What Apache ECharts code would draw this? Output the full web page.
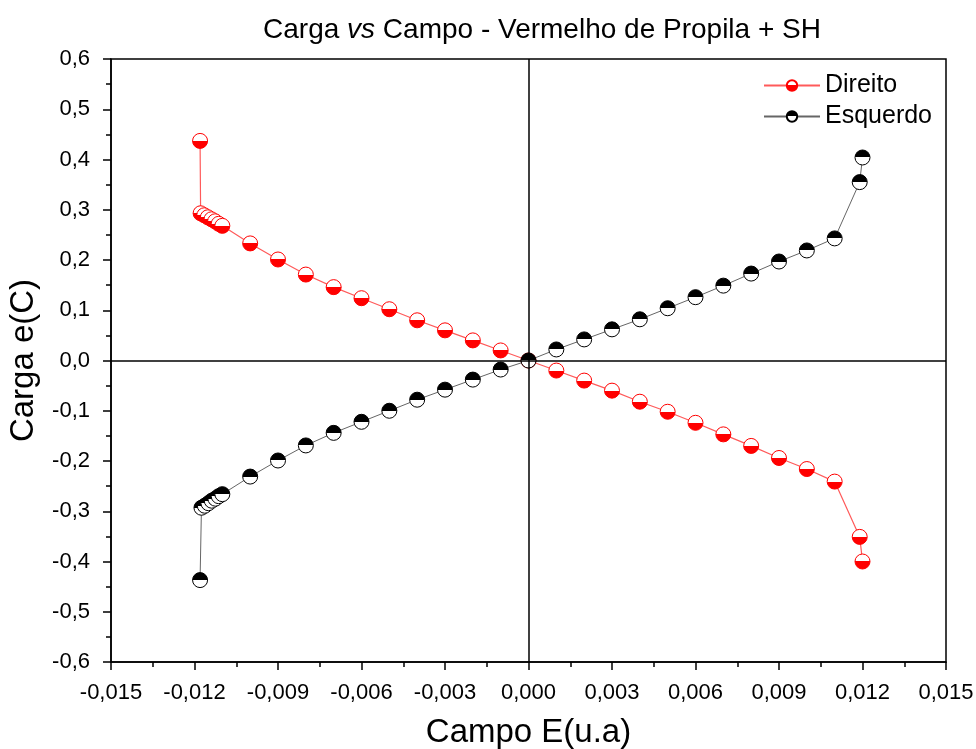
<!DOCTYPE html>
<html>
<head>
<meta charset="utf-8">
<script src="https://cdn.jsdelivr.net/npm/echarts@6/dist/echarts.min.js"></script>
<style>html,body{margin:0;padding:0;background:#fff}#c{width:976px;height:749px}</style>
</head>
<body>
<div id="c"></div>
<script>
// Direito (red) series
const direitoX = [-0.0118, -0.01178, -0.01165, -0.01152, -0.01139, -0.01126, -0.01113, -0.0110,
  -0.010, -0.009, -0.008, -0.007, -0.006, -0.005, -0.004, -0.003, -0.002, -0.001, 0,
  0.001, 0.002, 0.003, 0.004, 0.005, 0.006, 0.007, 0.008, 0.009, 0.010, 0.011, 0.0119, 0.0120];
const direitoY = [0.437, 0.293, 0.289, 0.285, 0.281, 0.277, 0.272, 0.268,
  0.233, 0.201, 0.171, 0.146, 0.124, 0.102, 0.080, 0.060, 0.040, 0.020, 0,
  -0.020, -0.040, -0.060, -0.082, -0.102, -0.124, -0.147, -0.170, -0.194, -0.216, -0.241, -0.351, -0.400];
// Esquerdo (black) series
const esquerdoX = [-0.0118, -0.01175, -0.01163, -0.0115, -0.01138, -0.01125, -0.01113, -0.0110,
  -0.010, -0.009, -0.008, -0.007, -0.006, -0.005, -0.004, -0.003, -0.002, -0.001, 0,
  0.001, 0.002, 0.003, 0.004, 0.005, 0.006, 0.007, 0.008, 0.009, 0.010, 0.011, 0.0119, 0.0120];
const esquerdoY = [-0.437, -0.293, -0.289, -0.284, -0.279, -0.275, -0.270, -0.266,
  -0.231, -0.199, -0.169, -0.144, -0.122, -0.100, -0.078, -0.058, -0.038, -0.018, 0,
  0.022, 0.042, 0.062, 0.082, 0.104, 0.126, 0.149, 0.173, 0.197, 0.219, 0.243, 0.355, 0.404];
const seriesNames = ['Direito', 'Esquerdo'];
const xTickFmt = v => v.toFixed(3).replace('.', ',');
const yTickFmt = v => v.toFixed(1).replace('.', ',');

const FONT = 'Liberation Sans, Arial, sans-serif';
function halfFill(top, bottom) {
  return {type: 'linear', x: 0, y: 0, x2: 0, y2: 1, colorStops: [
    {offset: 0, color: top}, {offset: 0.5, color: top},
    {offset: 0.5, color: bottom}, {offset: 1, color: bottom}]};
}
const pairs = (xs, ys) => xs.map((x, i) => [x, ys[i]]);

const chart = echarts.init(document.getElementById('c'), null, {renderer: 'canvas'});
chart.setOption({
  animation: false,
  backgroundColor: '#fff',
  title: {
    text: '{n|Carga }{i|vs}{n| Campo - Vermelho de Propila + SH}',
    left: 537, top: 11, textAlign: 'center',
    textStyle: {fontWeight: 'normal', rich: {
      n: {fontSize: 28, fontFamily: FONT, color: '#000', fontWeight: 'normal'},
      i: {fontSize: 28, fontFamily: FONT, color: '#000', fontWeight: 'normal', fontStyle: 'italic'}
    }}
  },
  legend: {
    data: seriesNames, orient: 'vertical', left: 763, top: 73, padding: 0,
    itemWidth: 56, itemHeight: 13, itemGap: 6,
    textStyle: {fontSize: 25, fontFamily: FONT, color: '#000'}
  },
  grid: {left: 111, right: 30, top: 59, bottom: 87, show: true, borderColor: '#000', borderWidth: 1.5,
    outerBoundsMode: 'none', containLabel: false},
  xAxis: {
    type: 'value', min: -0.015, max: 0.015, interval: 0.003,
    name: 'Campo E(u.a)', nameLocation: 'middle', nameGap: 54,
    nameTextStyle: {fontSize: 33, fontFamily: FONT, color: '#000'},
    axisLine: {show: true, onZero: false, lineStyle: {color: '#000', width: 1.5}},
    axisTick: {show: true, inside: false, length: 8, lineStyle: {color: '#000', width: 1.5}},
    minorTick: {show: true, splitNumber: 2, length: 5, lineStyle: {color: '#000', width: 1.5}},
    splitLine: {show: false},
    axisLabel: {fontSize: 22, fontFamily: FONT, color: '#000', margin: 20, formatter: xTickFmt}
  },
  yAxis: {
    type: 'value', min: -0.6, max: 0.6, interval: 0.1,
    name: 'Carga e(C)', nameLocation: 'middle', nameGap: 71, nameRotate: 90,
    nameTextStyle: {fontSize: 33, fontFamily: FONT, color: '#000'},
    axisLine: {show: true, onZero: false, lineStyle: {color: '#000', width: 1.5}},
    axisTick: {show: true, inside: false, length: 8, lineStyle: {color: '#000', width: 1.5}},
    minorTick: {show: true, splitNumber: 2, length: 5, lineStyle: {color: '#000', width: 1.5}},
    splitLine: {show: false},
    axisLabel: {fontSize: 22, fontFamily: FONT, color: '#000', margin: 21, formatter: yTickFmt}
  },
  series: [
    {
      name: 'zero', type: 'line', data: [], z: 1, silent: true,
      markLine: {
        silent: true, symbol: ['none', 'none'], label: {show: false},
        lineStyle: {color: '#000', width: 1.5, type: 'solid'},
        emphasis: {disabled: true},
        data: [{xAxis: 0}, {yAxis: 0}]
      }
    },
    {
      name: seriesNames[0], type: 'line', z: 3,
      data: pairs(direitoX, direitoY),
      symbol: 'circle', symbolSize: 15,
      lineStyle: {color: '#ff5a5a', width: 1.2},
      itemStyle: {color: halfFill('#ffffff', '#ff0000'), borderColor: '#ff0000', borderWidth: 1},
      emphasis: {disabled: true}
    },
    {
      name: seriesNames[1], type: 'line', z: 4,
      data: pairs(esquerdoX, esquerdoY),
      symbol: 'circle', symbolSize: 15,
      lineStyle: {color: '#666666', width: 1},
      itemStyle: {color: halfFill('#000000', '#ffffff'), borderColor: '#000000', borderWidth: 1},
      emphasis: {disabled: true}
    }
  ]
});
</script>
</body>
</html>
